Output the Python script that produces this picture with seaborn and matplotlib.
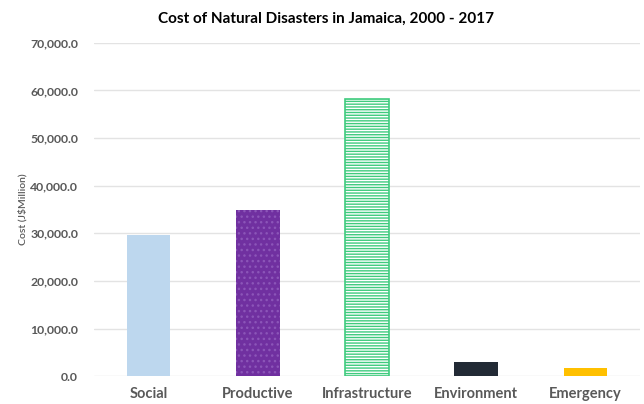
import matplotlib
matplotlib.use("Agg")
import matplotlib.pyplot as plt
import seaborn as sns
import pandas as pd
from matplotlib.ticker import FuncFormatter

categories = ["Social", "Productive", "Infrastructure", "Environment", "Emergency"]
costs = [29600, 34900, 58200, 2900, 1750]
yticks = [0, 10000, 20000, 30000, 40000, 50000, 60000, 70000]

face_colors = ["#BDD7EE", "#7030A0", "#FFFFFF", "#222A35", "#FFC000"]
edge_colors = ["#BDD7EE", "#8B55B8", "#3FCB7E", "#222A35", "#FFC000"]
hatches = [None, "...", "------", None, None]

sns.set_theme(style="white")
plt.rcParams["font.family"] = ["Lato", "DejaVu Sans"]
plt.rcParams["hatch.linewidth"] = 1.0

df = pd.DataFrame({"category": categories, "cost": costs})

fig = plt.figure(figsize=(6.44, 4.04), dpi=100)
ax = fig.add_axes([0.146, 0.069, 0.848, 0.825])
sns.barplot(data=df, x="category", y="cost", hue="category", palette=face_colors,
            width=0.4, legend=False, ax=ax, saturation=1)

for i, p in enumerate(ax.patches):
    p.set_facecolor(face_colors[i])
    if hatches[i]:
        p.set_hatch(hatches[i])
        p.set_edgecolor(edge_colors[i])
        p.set_linewidth(1.2 if i == 2 else 0)
    else:
        p.set_linewidth(0)

ax.set_ylim(0, 70000)
ax.set_yticks(yticks)
ax.yaxis.set_major_formatter(FuncFormatter(lambda v, _: f"{v:,.1f}"))
ax.grid(axis="y", color="#E3E3E3", linewidth=1)
ax.set_axisbelow(True)
for s in ax.spines.values():
    s.set_visible(False)
ax.tick_params(axis="y", length=0, pad=11.5, labelsize=8.8, labelcolor="#595959")
ax.tick_params(axis="x", length=0, pad=8, labelsize=10.5, labelcolor="#595959")
for t in ax.get_yticklabels() + ax.get_xticklabels():
    t.set_fontweight("bold")
ax.set_xlabel("")
ax.set_ylabel("Cost (J$Million)", fontsize=7.5, color="#595959", labelpad=2,
              fontweight="semibold")
fig.suptitle("Cost of Natural Disasters in Jamaica, 2000 - 2017", fontsize=11,
             fontweight="bold", color="#000000", x=0.506, y=0.972)

fig.savefig("out.png", dpi=100)
